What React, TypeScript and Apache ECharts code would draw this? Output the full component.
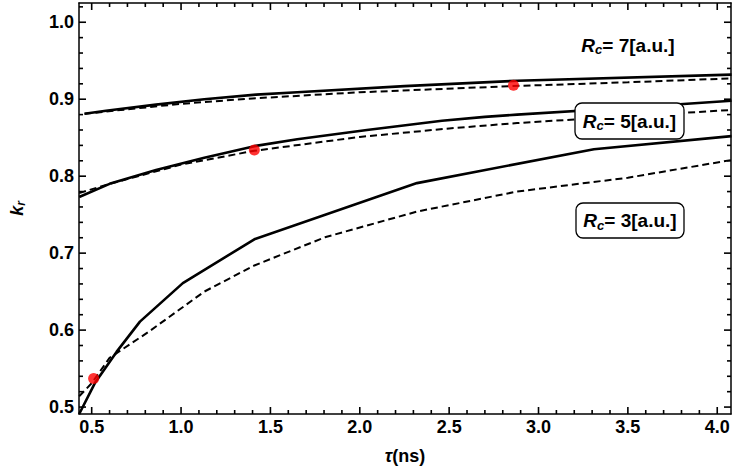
import React, { useEffect, useRef } from "react";
import * as echarts from "echarts";

// τ (ns) sample points and k_r values for each capture radius
const tauRc7Solid = [0.46, 0.58, 0.86, 1.13, 1.42, 1.65, 2.25, 2.88, 4.08];
const kRc7Solid = [0.881, 0.885, 0.893, 0.9, 0.906, 0.909, 0.917, 0.924, 0.932];
const tauRc7Dashed = [0.46, 0.58, 1.0, 1.4, 2.0, 2.85, 3.5, 4.08];
const kRc7Dashed = [0.881, 0.884, 0.894, 0.901, 0.909, 0.917, 0.922, 0.927];

const tauRc5Solid = [0.43, 0.6, 0.86, 1.13, 1.41, 1.65, 2.04, 2.46, 2.7, 2.88, 3.5, 4.08];
const kRc5Solid = [0.773, 0.79, 0.808, 0.824, 0.839, 0.848, 0.86, 0.872, 0.877, 0.88, 0.889, 0.898];
const tauRc5Dashed = [0.43, 0.6, 1.0, 1.41, 2.0, 2.5, 2.88, 3.5, 4.08];
const kRc5Dashed = [0.778, 0.79, 0.815, 0.833, 0.851, 0.862, 0.869, 0.878, 0.886];

const tauRc3Solid = [0.43, 0.52, 0.64, 0.77, 1.01, 1.41, 2.32, 3.31, 4.08];
const kRc3Solid = [0.491, 0.532, 0.572, 0.611, 0.661, 0.718, 0.791, 0.835, 0.852];
const tauRc3Dashed = [0.43, 0.5, 0.6, 0.82, 1.13, 1.41, 1.81, 2.32, 2.88, 3.5, 4.08];
const kRc3Dashed = [0.514, 0.531, 0.564, 0.598, 0.65, 0.684, 0.721, 0.754, 0.78, 0.798, 0.821];

// highlighted points
const markTau = [0.511, 1.41, 2.86];
const markK = [0.537, 0.834, 0.918];

const rcLabels = ["7", "5", "3"];

// major tick values of the frame; minor ticks split each step into five
const xMajorTicks = [0.5, 1.0, 1.5, 2.0, 2.5, 3.0, 3.5, 4.0];
const yMajorTicks = [0.5, 0.6, 0.7, 0.8, 0.9, 1.0];
const MINOR_SPLIT = 5;

const X_MIN = 0.429;
const X_MAX = 4.077;
const Y_MIN = 0.491;
const Y_MAX = 1.025;

const FONT = "'Liberation Sans', Arial, sans-serif";

const pairs = (xs: number[], ys: number[]) => xs.map((x, i) => [x, ys[i]]);

// tick values along one axis: [value, isMajor]
function tickValues(majors: number[], lo: number, hi: number): number[][] {
  const out: number[][] = [];
  const step = majors[1] - majors[0];
  const sub = step / MINOR_SPLIT;
  const first = majors[0] - step;
  const last = majors[majors.length - 1] + step;
  for (let i = 0; first + i * sub <= last + 1e-9; i++) {
    const v = Math.round((first + i * sub) * 1e6) / 1e6;
    if (v <= lo || v >= hi) continue;
    out.push([v, i % MINOR_SPLIT === 0 ? 1 : 0]);
  }
  return out;
}

// inward tick marks on all four frame sides, drawn as thin rect symbols
function frameTickItems() {
  const MAJOR = 7;
  const MINOR = 4;
  const W = 1.6;
  const items: any[] = [];
  tickValues(xMajorTicks, X_MIN, X_MAX).forEach(([v, major]) => {
    const len = major ? MAJOR : MINOR;
    items.push({ value: [v, Y_MIN], symbolSize: [W, len], symbolOffset: [0, -len / 2] });
    items.push({ value: [v, Y_MAX], symbolSize: [W, len], symbolOffset: [0, len / 2] });
  });
  tickValues(yMajorTicks, Y_MIN, Y_MAX).forEach(([v, major]) => {
    const len = major ? MAJOR : MINOR;
    items.push({ value: [X_MIN, v], symbolSize: [len, W], symbolOffset: [len / 2, 0] });
    items.push({ value: [X_MAX, v], symbolSize: [len, W], symbolOffset: [-len / 2, 0] });
  });
  return items;
}

function makeAxis(kind: "x" | "y", position: string, labels: boolean, min: number, max: number, split: number) {
  return {
    type: "value",
    position,
    min,
    max,
    splitNumber: split,
    axisLine: { show: true, onZero: false, lineStyle: { color: "#000", width: 1.5 } },
    axisTick: { show: false },
    minorTick: { show: false },
    splitLine: { show: false },
    minorSplitLine: { show: false },
    axisLabel: {
      show: labels,
      showMinLabel: false,
      showMaxLabel: false,
      formatter: (v: number) => v.toFixed(1),
      fontSize: 18,
      fontWeight: "bold",
      color: "#000",
      fontFamily: FONT,
      margin: kind === "x" ? 4 : 5,
    },
  };
}

function rcText(value: string) {
  return {
    text: `{r|R}{c|c}{t|= ${value}[a.u.]}`,
    rich: {
      r: { fontSize: 19, fontWeight: "bold", fontStyle: "italic", fontFamily: FONT, lineHeight: 22, fill: "#000" },
      c: {
        fontSize: 13,
        fontWeight: "bold",
        fontStyle: "italic",
        fontFamily: FONT,
        lineHeight: 13,
        verticalAlign: "bottom",
        fill: "#000",
      },
      t: { fontSize: 19, fontWeight: "bold", fontFamily: FONT, lineHeight: 22, fill: "#000" },
    },
    align: "center",
    verticalAlign: "middle",
  };
}

function boxedLabel(value: string, x: number, y: number, w: number, h: number) {
  return {
    type: "group",
    x,
    y,
    z: 100,
    children: [
      {
        type: "rect",
        z: 100,
        shape: { x: 0, y: 0, width: w, height: h, r: 7 },
        style: { fill: "#fff", stroke: "#000", lineWidth: 1.3 },
      },
      { type: "text", z: 101, x: w / 2, y: h / 2, style: rcText(value) },
    ],
  };
}

export default function App() {
  const ref = useRef<HTMLDivElement>(null);

  useEffect(() => {
    if (!ref.current) return;
    document.body.style.margin = "0";
    const chart = echarts.init(ref.current, null, { renderer: "svg" });

    const solid = (data: number[][]) => ({
      type: "line",
      data,
      showSymbol: false,
      lineStyle: { color: "#000", width: 2.6 },
      z: 3,
    });
    const dashed = (data: number[][]) => ({
      type: "line",
      data,
      showSymbol: false,
      lineStyle: { color: "#000", width: 2, type: [7, 4] },
      z: 2,
    });

    chart.setOption({
      animation: false,
      backgroundColor: "#fff",
      grid: { left: 60, right: 3, top: 3, bottom: 59 },
      xAxis: [
        {
          ...makeAxis("x", "bottom", true, X_MIN, X_MAX, 7),
          name: "{t|τ}{n|(ns)}",
          nameLocation: "middle",
          nameGap: 33,
          nameTextStyle: {
            rich: {
              t: { fontSize: 18, fontWeight: "bold", fontStyle: "italic", fontFamily: FONT, color: "#000" },
              n: { fontSize: 18, fontWeight: "bold", fontFamily: FONT, color: "#000" },
            },
          },
        },
        makeAxis("x", "top", false, X_MIN, X_MAX, 7),
      ],
      yAxis: [
        {
          ...makeAxis("y", "left", true, Y_MIN, Y_MAX, 5),
          name: "{k|k}{r|r}",
          nameLocation: "middle",
          nameGap: 52,
          nameTextStyle: {
            rich: {
              k: { fontSize: 18, fontWeight: "bold", fontStyle: "italic", fontFamily: FONT, color: "#000", lineHeight: 20 },
              r: {
                fontSize: 12,
                fontWeight: "bold",
                fontStyle: "italic",
                fontFamily: FONT,
                color: "#000",
                lineHeight: 12,
                verticalAlign: "bottom",
              },
            },
          },
        },
        makeAxis("y", "right", false, Y_MIN, Y_MAX, 5),
      ],
      series: [
        solid(pairs(tauRc7Solid, kRc7Solid)),
        dashed(pairs(tauRc7Dashed, kRc7Dashed)),
        solid(pairs(tauRc5Solid, kRc5Solid)),
        dashed(pairs(tauRc5Dashed, kRc5Dashed)),
        solid(pairs(tauRc3Solid, kRc3Solid)),
        dashed(pairs(tauRc3Dashed, kRc3Dashed)),
        {
          type: "scatter",
          data: pairs(markTau, markK),
          symbolSize: 11,
          itemStyle: { color: "#ff0000" },
          z: 5,
        },
        {
          type: "scatter",
          symbol: "rect",
          clip: false,
          silent: true,
          data: frameTickItems(),
          itemStyle: { color: "#000", opacity: 1 },
          emphasis: { disabled: true },
          z: 6,
        },
      ],
      graphic: [
        { type: "text", x: 628, y: 45, z: 100, style: rcText(rcLabels[0]) },
        boxedLabel(rcLabels[1], 575, 103, 109, 36),
        boxedLabel(rcLabels[2], 576, 203, 108, 35),
      ],
    });

    return () => chart.dispose();
  }, []);

  return <div ref={ref} style={{ width: 734, height: 473 }} />;
}
